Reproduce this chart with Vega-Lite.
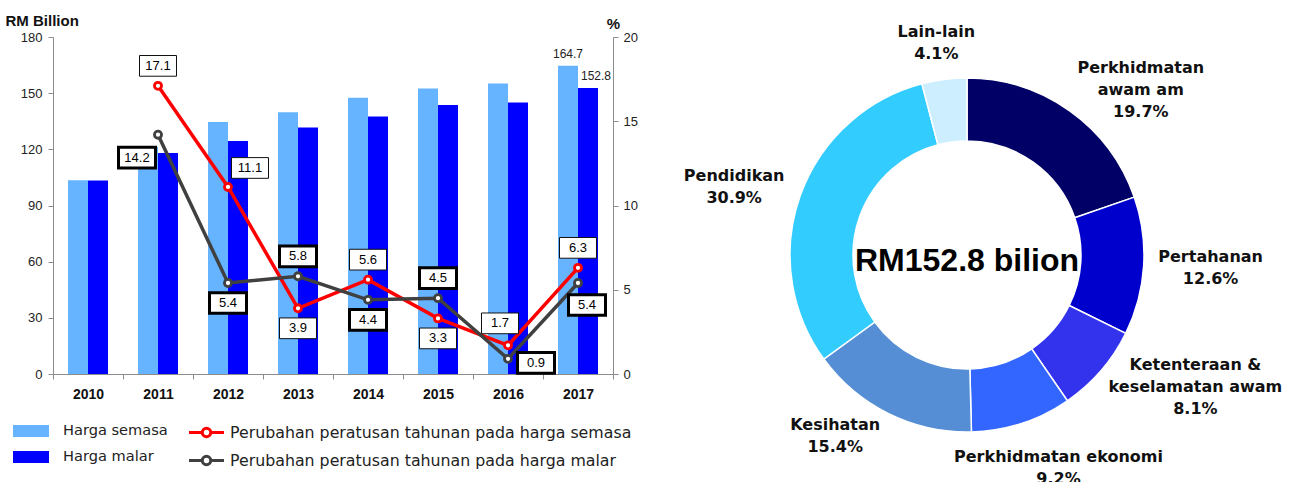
{
  "$schema": "https://vega.github.io/schema/vega-lite/v6.json",
  "background": "white",
  "padding": {"left": 5, "top": 13, "right": 0, "bottom": 0},
  "spacing": 9,
  "config": {
    "view": {"stroke": null},
    "font": "Liberation Sans",
    "axis": {"grid": false, "labelFont": "Liberation Sans", "labelColor": "#222", "domainColor": "#8c8c8c", "tickColor": "#8c8c8c", "titleFont": "Liberation Sans", "titleColor": "#111"}
  },
  "datasets": {
    "bars": [
      {"year": 2010, "series": "Harga semasa", "value": 103.5},
      {"year": 2010, "series": "Harga malar", "value": 103.4},
      {"year": 2011, "series": "Harga semasa", "value": 121.2},
      {"year": 2011, "series": "Harga malar", "value": 118.0},
      {"year": 2012, "series": "Harga semasa", "value": 134.6},
      {"year": 2012, "series": "Harga malar", "value": 124.5},
      {"year": 2013, "series": "Harga semasa", "value": 139.8},
      {"year": 2013, "series": "Harga malar", "value": 131.7},
      {"year": 2014, "series": "Harga semasa", "value": 147.6},
      {"year": 2014, "series": "Harga malar", "value": 137.5},
      {"year": 2015, "series": "Harga semasa", "value": 152.5},
      {"year": 2015, "series": "Harga malar", "value": 143.7},
      {"year": 2016, "series": "Harga semasa", "value": 155.1},
      {"year": 2016, "series": "Harga malar", "value": 145.0},
      {"year": 2017, "series": "Harga semasa", "value": 164.7},
      {"year": 2017, "series": "Harga malar", "value": 152.8}
    ],
    "lines": [
      {"year": 2011, "lseries": "Perubahan peratusan tahunan pada harga semasa", "pct": 17.1, "pos": "t"},
      {"year": 2012, "lseries": "Perubahan peratusan tahunan pada harga semasa", "pct": 11.1, "pos": "tr"},
      {"year": 2013, "lseries": "Perubahan peratusan tahunan pada harga semasa", "pct": 3.9, "pos": "b"},
      {"year": 2014, "lseries": "Perubahan peratusan tahunan pada harga semasa", "pct": 5.6, "pos": "t"},
      {"year": 2015, "lseries": "Perubahan peratusan tahunan pada harga semasa", "pct": 3.3, "pos": "b"},
      {"year": 2016, "lseries": "Perubahan peratusan tahunan pada harga semasa", "pct": 1.7, "pos": "tl"},
      {"year": 2017, "lseries": "Perubahan peratusan tahunan pada harga semasa", "pct": 6.3, "pos": "t"},
      {"year": 2011, "lseries": "Perubahan peratusan tahunan pada harga malar", "pct": 14.2, "pos": "bl"},
      {"year": 2012, "lseries": "Perubahan peratusan tahunan pada harga malar", "pct": 5.4, "pos": "b"},
      {"year": 2013, "lseries": "Perubahan peratusan tahunan pada harga malar", "pct": 5.8, "pos": "t"},
      {"year": 2014, "lseries": "Perubahan peratusan tahunan pada harga malar", "pct": 4.4, "pos": "b"},
      {"year": 2015, "lseries": "Perubahan peratusan tahunan pada harga malar", "pct": 4.5, "pos": "t"},
      {"year": 2016, "lseries": "Perubahan peratusan tahunan pada harga malar", "pct": 0.9, "pos": "r"},
      {"year": 2017, "lseries": "Perubahan peratusan tahunan pada harga malar", "pct": 5.4, "pos": "br"}
    ],
    "donut": [
      {"idx": 1, "name": "Perkhidmatan|awam am", "share": 19.7},
      {"idx": 2, "name": "Pertahanan", "share": 12.6},
      {"idx": 3, "name": "Ketenteraan &|keselamatan awam", "share": 8.1},
      {"idx": 4, "name": "Perkhidmatan ekonomi", "share": 9.2},
      {"idx": 5, "name": "Kesihatan", "share": 15.4},
      {"idx": 6, "name": "Pendidikan", "share": 30.9},
      {"idx": 7, "name": "Lain-lain", "share": 4.1}
    ]
  },
  "hconcat": [
    {
      "width": 560,
      "height": 337,
      "resolve": {"scale": {"y": "independent"}},
      "layer": [
        {
          "data": {"name": "bars"},
          "encoding": {
            "x": {"field": "year", "type": "ordinal", "scale": {"paddingInner": 0, "paddingOuter": 0}, "axis": {"title": null, "labelAngle": 0, "labelFontWeight": "bold", "labelFontSize": 14, "labelColor": "#111", "labelPadding": 8, "tickSize": 5, "tickBand": "extent"}},
            "xOffset": {"field": "series", "type": "nominal", "scale": {"domain": ["Harga semasa", "Harga malar"], "paddingOuter": 0.75, "paddingInner": 0}},
            "y": {"field": "value", "type": "quantitative", "scale": {"domain": [0, 180]}, "axis": {"values": [0, 30, 60, 90, 120, 150, 180], "title": "RM Billion", "titleAngle": 0, "titleX": -48, "titleY": -12, "titleAlign": "left", "titleBaseline": "alphabetic", "titleFontSize": 15, "titleFontWeight": "bold", "labelFontSize": 13, "tickSize": 5, "labelPadding": 6}}
          },
          "layer": [
            {
              "mark": {"type": "bar"},
              "encoding": {
                "fill": {"field": "series", "type": "nominal", "scale": {"domain": ["Harga semasa", "Harga malar"], "range": ["#66b3ff", "#0000ff"]}, "legend": {"title": null, "orient": "none", "legendX": -32, "legendY": 384, "padding": 0, "symbolType": "M-1.8,-0.6L1.8,-0.6L1.8,0.6L-1.8,0.6Z", "symbolSize": 400, "symbolStrokeWidth": 0, "labelOffset": 22, "rowPadding": 9, "labelLimit": 0, "labelFont": "DejaVu Sans", "labelFontSize": 14.6, "labelColor": "#222"}}
              }
            },
            {
              "transform": [{"filter": "datum.year == 2017"}],
              "mark": {"type": "text", "dy": -12, "fontSize": 12, "font": "Liberation Sans", "color": "#222", "dx": {"expr": "datum.series == 'Harga malar' ? 8 : 0"}},
              "encoding": {"text": {"field": "value", "type": "quantitative", "format": ".1f"}}
            }
          ]
        },
        {
          "data": {"name": "lines"},
          "encoding": {
            "x": {"field": "year", "type": "ordinal", "scale": {"paddingInner": 0, "paddingOuter": 0}, "axis": {"title": null, "labelAngle": 0, "labelFontWeight": "bold", "labelFontSize": 14, "labelColor": "#111", "labelPadding": 8, "tickSize": 5, "tickBand": "extent"}},
            "y": {"field": "pct", "type": "quantitative", "scale": {"domain": [0, 20]}, "axis": {"orient": "right", "values": [0, 5, 10, 15, 20], "title": "%", "titleAngle": 0, "titleX": 0, "titleY": -9, "titleAlign": "center", "titleBaseline": "alphabetic", "titleFontSize": 15, "titleFontWeight": "bold", "labelFontSize": 13, "tickSize": 5, "labelPadding": 5}}
          },
          "layer": [
            {
              "mark": {"type": "line", "strokeWidth": 3.5},
              "encoding": {
                "stroke": {"field": "lseries", "type": "nominal", "scale": {"domain": ["Perubahan peratusan tahunan pada harga semasa", "Perubahan peratusan tahunan pada harga malar"], "range": ["#ff0000", "#404040"]}, "legend": {"title": null, "orient": "none", "legendX": 142, "legendY": 384, "padding": 0, "symbolType": "M-1.75,0L-0.42,0M0.42,0L1.75,0M-0.42,0A0.42,0.42 0 1 1 0.42,0A0.42,0.42 0 1 1 -0.42,0", "symbolSize": 400, "symbolStrokeWidth": 3, "symbolFillColor": "white", "labelOffset": 12, "rowPadding": 6, "labelLimit": 0, "labelFont": "DejaVu Sans", "labelFontSize": 15.8, "labelColor": "#222"}}
              }
            },
            {
              "mark": {"type": "point", "shape": "circle", "filled": true, "fill": "white", "size": 50, "strokeWidth": 2.8, "opacity": 1},
              "encoding": {
                "stroke": {"field": "lseries", "type": "nominal", "scale": {"domain": ["Perubahan peratusan tahunan pada harga semasa", "Perubahan peratusan tahunan pada harga malar"], "range": ["#ff0000", "#404040"]}, "legend": {"title": null, "orient": "none", "legendX": 142, "legendY": 384, "padding": 0, "symbolType": "M-1.75,0L-0.42,0M0.42,0L1.75,0M-0.42,0A0.42,0.42 0 1 1 0.42,0A0.42,0.42 0 1 1 -0.42,0", "symbolSize": 400, "symbolStrokeWidth": 3, "symbolFillColor": "white", "labelOffset": 12, "rowPadding": 6, "labelLimit": 0, "labelFont": "DejaVu Sans", "labelFontSize": 15.8, "labelColor": "#222"}}
              }
            },
            {
              "transform": [{"filter": {"field": "lseries", "equal": "Perubahan peratusan tahunan pada harga semasa"}}],
              "mark": {"type": "point", "shape": "M-1,-0.56L1,-0.56L1,0.56L-1,0.56Z", "size": 1369, "filled": true, "fill": "white", "stroke": "#111", "strokeWidth": 1, "opacity": 1,
                "xOffset": {"expr": "datum.pos == 'tr' ? 22 : datum.pos == 'bl' ? -21 : datum.pos == 'tl' ? -8 : datum.pos == 'r' ? 28 : datum.pos == 'br' ? 9 : 0"},
                "yOffset": {"expr": "datum.pos == 't' ? -20 : datum.pos == 'b' ? 20 : datum.pos == 'tr' ? -19 : datum.pos == 'bl' ? 23 : datum.pos == 'tl' ? -22 : datum.pos == 'r' ? 4 : 22"}},
              "encoding": {}
            },
            {
              "transform": [{"filter": {"field": "lseries", "equal": "Perubahan peratusan tahunan pada harga malar"}}],
              "mark": {"type": "point", "shape": "M-1,-0.56L1,-0.56L1,0.56L-1,0.56Z", "size": 1369, "filled": true, "fill": "white", "stroke": "#000", "strokeWidth": 3, "opacity": 1,
                "xOffset": {"expr": "datum.pos == 'tr' ? 22 : datum.pos == 'bl' ? -21 : datum.pos == 'tl' ? -8 : datum.pos == 'r' ? 28 : datum.pos == 'br' ? 9 : 0"},
                "yOffset": {"expr": "datum.pos == 't' ? -20 : datum.pos == 'b' ? 20 : datum.pos == 'tr' ? -19 : datum.pos == 'bl' ? 23 : datum.pos == 'tl' ? -22 : datum.pos == 'r' ? 4 : 22"}},
              "encoding": {}
            },
            {
              "mark": {"type": "text", "fontSize": 13, "font": "Liberation Sans", "color": "#000", "baseline": "middle",
                "xOffset": {"expr": "datum.pos == 'tr' ? 22 : datum.pos == 'bl' ? -21 : datum.pos == 'tl' ? -8 : datum.pos == 'r' ? 28 : datum.pos == 'br' ? 9 : 0"},
                "yOffset": {"expr": "datum.pos == 't' ? -20 : datum.pos == 'b' ? 20 : datum.pos == 'tr' ? -19 : datum.pos == 'bl' ? 23 : datum.pos == 'tl' ? -22 : datum.pos == 'r' ? 4 : 22"}},
              "encoding": {"text": {"field": "pct", "type": "quantitative", "format": ".1f"}}
            }
          ]
        }
      ]
    },
    {
      "width": 640,
      "height": 436,
      "layer": [
        {
          "data": {"name": "donut"},
          "mark": {"type": "arc", "outerRadius": 177, "innerRadius": 114, "stroke": "white", "strokeWidth": 1.5},
          "encoding": {
            "theta": {"field": "share", "type": "quantitative", "stack": true},
            "order": {"field": "idx", "type": "quantitative"},
            "color": {"field": "name", "type": "nominal", "scale": {"domain": ["Perkhidmatan|awam am", "Pertahanan", "Ketenteraan &|keselamatan awam", "Perkhidmatan ekonomi", "Kesihatan", "Pendidikan", "Lain-lain"], "range": ["#000066", "#0000cc", "#3333ee", "#3366ff", "#558ed5", "#33ccff", "#cceeff"]}, "legend": null}
          }
        },
        {
          "data": {"name": "donut"},
          "transform": [
            {"window": [{"op": "sum", "field": "share", "as": "cum"}], "sort": [{"field": "idx", "order": "ascending"}], "frame": [null, 0]},
            {"calculate": "(datum.cum - datum.share / 2) / 100", "as": "mid"},
            {"calculate": "datum.mid * 2 * PI", "as": "ang"},
            {"calculate": "(datum.mid < 0.06 || datum.mid > 0.94 || (datum.mid > 0.42 && datum.mid < 0.56)) ? 0 : (datum.mid < 0.5 ? 1 : -1)", "as": "side"},
            {"calculate": "datum.name + '|' + format(datum.share, '.1f') + '%'", "as": "label"},
            {"calculate": "split(datum.name, '|')", "as": "parts"},
            {"calculate": "max(length(datum.parts[0]), length(peek(datum.parts))) * 5.2", "as": "hw"},
            {"calculate": "length(datum.parts) + 1", "as": "nl"},
            {"calculate": "datum.side != 0 ? datum.side * datum.hw : sin(datum.ang) * datum.hw", "as": "dxv"},
            {"calculate": "datum.side != 0 ? -(datum.nl - 1) * 11 - cos(datum.ang) * 10 : (cos(datum.ang) > 0 ? -(datum.nl - 0.5) * 22 : 19)", "as": "dyv"}
          ],
          "mark": {"type": "text", "radius": 192, "font": "DejaVu Sans", "fontWeight": "bold", "fontSize": 16, "lineBreak": "|", "lineHeight": 22, "color": "#111", "align": "center", "baseline": "middle", "dx": {"expr": "datum.dxv"}, "dy": {"expr": "datum.dyv"}},
          "encoding": {
            "theta": {"field": "share", "type": "quantitative", "stack": true},
            "order": {"field": "idx", "type": "quantitative"},
            "detail": {"field": "name", "type": "nominal"},
            "text": {"field": "label", "type": "nominal"}
          }
        },
        {
          "data": {"values": [{"t": "RM152.8 bilion"}]},
          "mark": {"type": "text", "font": "Liberation Sans", "fontWeight": "bold", "fontSize": 32, "color": "#000", "baseline": "middle", "dy": 6},
          "encoding": {"text": {"field": "t", "type": "nominal"}}
        }
      ]
    }
  ]
}
